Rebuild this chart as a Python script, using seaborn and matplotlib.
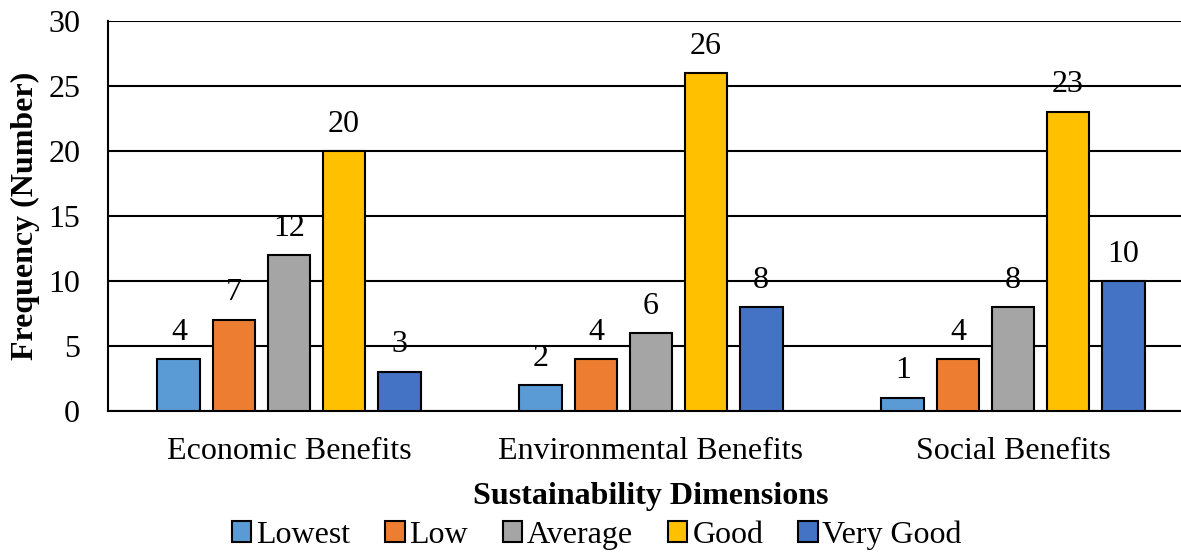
import matplotlib
matplotlib.use("Agg")
import matplotlib.pyplot as plt
import seaborn as sns
import pandas as pd

dimensions = ["Economic Benefits", "Environmental Benefits", "Social Benefits"]
ratings = ["Lowest", "Low", "Average", "Good", "Very Good"]
lowest = [4, 2, 1]
low = [7, 4, 4]
average = [12, 6, 8]
good = [20, 26, 23]
very_good = [3, 8, 10]
y_ticks = [0, 5, 10, 15, 20, 25, 30]

colors = ["#5B9BD5", "#ED7D31", "#A5A5A5", "#FFC000", "#4472C4"]

rows = []
for rating, vals in zip(ratings, [lowest, low, average, good, very_good]):
    for dim, v in zip(dimensions, vals):
        rows.append({"Dimension": dim, "Rating": rating, "Frequency": v})
df = pd.DataFrame(rows)

sns.set_theme(style="white")
plt.rcParams["font.family"] = ["Liberation Serif", "DejaVu Serif"]
plt.rcParams["text.color"] = "black"
plt.rcParams["axes.labelcolor"] = "black"

FS = 23
W, H = 1181, 553
fig = plt.figure(figsize=(W / 100, H / 100), dpi=100)
left, right, top, bottom = 108, 1194, 21, 411
ax = fig.add_axes([left / W, 1 - bottom / H, (right - left) / W, (bottom - top) / H])

sns.barplot(data=df, x="Dimension", y="Frequency", hue="Rating",
            order=dimensions, hue_order=ratings, palette=colors, saturation=1,
            width=0.76, gap=0.22, edgecolor="black", linewidth=1.5,
            ax=ax, legend=True, zorder=3)

for cont in ax.containers:
    ax.bar_label(cont, fmt="%d", padding=9, fontsize=FS, color="black")

ax.set_ylim(0, 30)
ax.set_yticks(y_ticks)
ax.set_xlim(-0.5, 2.5)
ax.yaxis.grid(True, color="black", linewidth=1.5, zorder=0)
ax.set_axisbelow(True)
for side in ["top", "right"]:
    ax.spines[side].set_visible(False)
for side in ["left", "bottom"]:
    ax.spines[side].set_color("black")
    ax.spines[side].set_linewidth(1.5)
ax.tick_params(axis="y", length=0, labelsize=FS, colors="black", pad=20)
ax.tick_params(axis="x", length=0, labelsize=FS, colors="black", pad=19)
ax.set_ylabel("Frequency (Number)", fontsize=FS, fontweight="bold", labelpad=6)
ax.set_xlabel("Sustainability Dimensions", fontsize=FS, fontweight="bold", labelpad=11)

handles, labels = ax.get_legend_handles_labels()
ax.legend(handles, labels, loc="center", bbox_to_anchor=(597 / W, 1 - 535 / H),
          bbox_transform=fig.transFigure, ncol=5, frameon=False, fontsize=FS,
          handlelength=0.6, handleheight=0.6, handletextpad=0.15, columnspacing=1.1,
          borderaxespad=0)

fig.savefig("out.png", dpi=100)
